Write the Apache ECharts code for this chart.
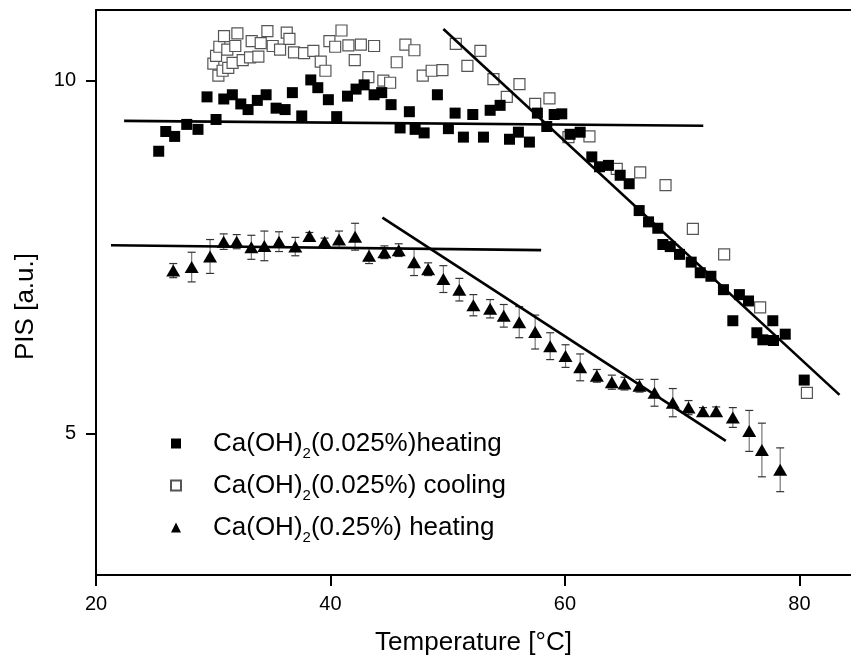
<!DOCTYPE html>
<html><head><meta charset="utf-8">
<script src="https://cdn.jsdelivr.net/npm/echarts@6/dist/echarts.min.js"></script>
<style>html,body{margin:0;padding:0;background:#fff}#c{width:851px;height:661px}</style>
</head><body><div id="c"></div>
<script>
// Ca(OH)2 (0.025%) heating — filled squares
const heatT = [25.35,25.95,26.71,27.74,28.70,29.47,30.24,30.90,31.63,32.35,32.97,33.76,34.51,35.36,36.13,36.75,37.55,38.32,38.92,39.82,40.53,41.45,42.18,42.87,43.72,44.37,45.17,45.94,46.73,47.22,47.99,49.12,50.06,50.63,51.34,52.14,53.05,53.62,54.47,55.27,56.03,56.97,57.65,58.45,59.08,59.73,60.44,61.30,62.29,62.95,63.71,64.71,65.48,66.33,67.13,67.92,68.35,68.98,69.77,70.77,71.54,72.45,73.52,74.32,74.88,75.66,76.37,76.88,77.73,77.79,78.79,80.41];
const heatPIS = [9.00,9.28,9.21,9.38,9.31,9.77,9.45,9.74,9.80,9.67,9.59,9.72,9.80,9.61,9.59,9.83,9.50,10.01,9.90,9.73,9.49,9.78,9.88,9.94,9.80,9.83,9.66,9.33,9.56,9.31,9.26,9.80,9.32,9.54,9.20,9.52,9.20,9.58,9.65,9.17,9.27,9.13,9.54,9.35,9.52,9.53,9.24,9.27,8.92,8.78,8.80,8.66,8.54,8.16,8.00,7.91,7.68,7.65,7.54,7.43,7.28,7.23,7.04,6.60,6.97,6.88,6.43,6.33,6.60,6.32,6.41,5.76];
// Ca(OH)2 (0.025%) cooling — open squares
const coolT = [30.01,30.24,30.44,30.52,30.80,30.92,31.20,31.28,31.65,31.88,32.06,32.51,33.14,33.28,33.85,34.05,34.62,35.07,35.70,36.27,36.50,36.89,37.75,38.54,39.17,39.57,39.91,40.40,40.94,41.53,42.07,42.59,43.23,43.72,44.51,45.09,45.65,46.39,47.16,47.87,48.63,49.55,50.69,51.68,52.79,53.90,55.04,56.12,57.46,58.68,60.30,62.09,64.42,66.42,68.58,70.91,73.58,76.65,80.64];
const coolPIS = [10.24,10.35,10.07,10.48,10.14,10.63,10.44,10.18,10.25,10.49,10.67,10.29,10.33,10.56,10.34,10.53,10.70,10.49,10.44,10.68,10.59,10.40,10.39,10.42,10.27,10.14,10.56,10.48,10.71,10.50,10.29,10.51,10.05,10.49,10.00,9.97,10.26,10.51,10.43,10.07,10.14,10.15,10.52,10.21,10.42,10.02,9.77,9.95,9.67,9.75,9.20,9.21,8.75,8.70,8.52,7.90,7.54,6.79,5.58];
// Ca(OH)2 (0.25%) heating — triangles with error bars
const triT = [26.59,28.16,29.73,30.89,32.00,33.25,34.36,35.61,37.00,38.20,39.50,40.73,42.10,43.29,44.60,45.82,47.13,48.33,49.63,50.99,52.19,53.62,54.78,56.10,57.46,58.74,60.05,61.30,62.72,64.00,65.08,66.36,67.64,69.20,70.54,71.77,72.90,74.32,75.72,76.80,78.36];
const triPIS = [7.31,7.36,7.51,7.72,7.72,7.64,7.66,7.72,7.65,7.80,7.72,7.75,7.79,7.52,7.57,7.60,7.43,7.33,7.19,7.04,6.82,6.77,6.67,6.58,6.44,6.24,6.10,5.94,5.82,5.73,5.71,5.68,5.58,5.44,5.37,5.32,5.32,5.23,5.04,4.77,4.49];
const triErr = [0.10,0.21,0.24,0.11,0.10,0.17,0.21,0.14,0.13,0.05,0.05,0.12,0.19,0.11,0.09,0.09,0.19,0.09,0.19,0.16,0.15,0.13,0.16,0.22,0.24,0.19,0.16,0.19,0.09,0.10,0.09,0.09,0.19,0.20,0.10,0.05,0.06,0.14,0.29,0.38,0.31];
// fitted straight lines (endpoints)
const fitHeatFlatT = [22.4, 71.8],  fitHeatFlatV = [9.43, 9.36];
const fitHeatSteepT = [49.63, 83.42], fitHeatSteepV = [10.73, 5.55];
const fitTriFlatT = [21.28, 57.97], fitTriFlatV = [7.67, 7.60];
const fitTriSteepT = [44.43, 73.72], fitTriSteepV = [8.06, 4.90];
// axis ticks
const xTicks = [20, 40, 60, 80];
const yTicks = [5, 10];
const names = ['Ca(OH)2(0.025%)heating', 'Ca(OH)2(0.025%) cooling', 'Ca(OH)2(0.25%) heating'];

const FONT = '"Liberation Sans", Arial, sans-serif';
const zip = (a, b) => a.map((v, i) => [v, b[i]]);
const fitLine = (t, v) => ({
  type: 'line', data: zip(t, v), symbol: 'none', silent: true,
  lineStyle: { color: '#000', width: 2.6 }, z: 4, legendHoverLink: false
});

const chart = echarts.init(document.getElementById('c'));
chart.setOption({
  animation: false,
  backgroundColor: '#fff',
  grid: { left: 96, top: 10, right: 0, bottom: 84, containLabel: false },
  xAxis: [{
    type: 'value', min: 20, max: 84.4, interval: 20,
    name: 'Temperature [°C]', nameLocation: 'middle', nameGap: 55,
    nameTextStyle: { fontSize: 26, color: '#000', fontFamily: FONT },
    axisLine: { show: true, onZero: false, lineStyle: { color: '#000', width: 2 } },
    axisTick: { show: true, length: 11, inside: false, customValues: xTicks, lineStyle: { color: '#000', width: 2 } },
    axisLabel: { fontSize: 20, color: '#000', fontFamily: FONT, margin: 19, customValues: xTicks },
    splitLine: { show: false }
  }, {
    type: 'value', position: 'top', min: 20, max: 84.4,
    axisLine: { show: true, onZero: false, lineStyle: { color: '#000', width: 2 } },
    axisTick: { show: false }, axisLabel: { show: false }, splitLine: { show: false }
  }],
  yAxis: {
    type: 'value', min: 3, max: 11,
    name: 'PIS [a.u.]', nameLocation: 'middle', nameGap: 57,
    nameTextStyle: { fontSize: 26, color: '#000', fontFamily: FONT, padding: [0, 28, 0, 0] },
    axisLine: { show: true, onZero: false, lineStyle: { color: '#000', width: 2 } },
    axisTick: { show: true, length: 10, customValues: yTicks, lineStyle: { color: '#000', width: 2 } },
    axisLabel: { fontSize: 20, color: '#000', fontFamily: FONT, margin: 20, customValues: yTicks },
    splitLine: { show: false }
  },
  legend: {
    orient: 'vertical', left: 170, top: 426, padding: 0,
    itemWidth: 10, itemHeight: 10, itemGap: 7,
    selectedMode: false,
    data: names,
    formatter: n => '{a|Ca(OH)}{s|2}{a|' + n.replace('Ca(OH)2', '') + '}',
    textStyle: {
      fontSize: 26, color: '#000', fontFamily: FONT, padding: [0, 0, 0, 27],
      rich: {
        a: { fontSize: 26, color: '#000', fontFamily: FONT, lineHeight: 30 },
        s: { fontSize: 15, color: '#000', fontFamily: FONT, lineHeight: 15, padding: [20, 0, 0, 0] }
      }
    }
  },
  series: [
    {
      name: names[1], type: 'scatter', data: zip(coolT, coolPIS),
      symbol: 'rect', symbolSize: 11, z: 2,
      itemStyle: { color: '#fff', borderColor: '#555', borderWidth: 1.2, opacity: 1 }
    },
    {
      name: names[0], type: 'scatter', data: zip(heatT, heatPIS),
      symbol: 'rect', symbolSize: 11, z: 3,
      itemStyle: { color: '#000', opacity: 1 }
    },
    {
      type: 'custom', name: 'err', silent: true, z: 2,
      data: triT.map((t, i) => [t, triPIS[i], triErr[i]]),
      renderItem: (params, api) => {
        const x = api.value(0), y = api.value(1), e = api.value(2);
        const top = api.coord([x, y + e]), bot = api.coord([x, y - e]);
        const cw = 4;
        return { type: 'group', children: [
          { type: 'line', shape: { x1: top[0], y1: top[1], x2: bot[0], y2: bot[1] }, style: { stroke: '#777', lineWidth: 1.2 } },
          { type: 'line', shape: { x1: top[0] - cw, y1: top[1], x2: top[0] + cw, y2: top[1] }, style: { stroke: '#333', lineWidth: 1.2 } },
          { type: 'line', shape: { x1: bot[0] - cw, y1: bot[1], x2: bot[0] + cw, y2: bot[1] }, style: { stroke: '#333', lineWidth: 1.2 } }
        ]};
      }
    },
    {
      name: names[2], type: 'scatter', data: zip(triT, triPIS),
      symbol: 'triangle', symbolSize: [14, 12], z: 3,
      itemStyle: { color: '#000', opacity: 1 }
    },
    fitLine(fitHeatFlatT, fitHeatFlatV),
    fitLine(fitHeatSteepT, fitHeatSteepV),
    fitLine(fitTriFlatT, fitTriFlatV),
    fitLine(fitTriSteepT, fitTriSteepV)
  ]
});
</script>
</body></html>
